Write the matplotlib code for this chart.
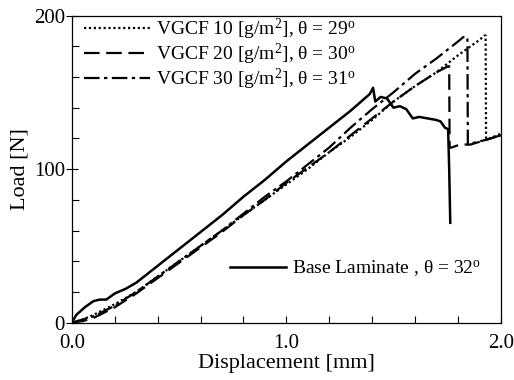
import matplotlib
matplotlib.use('Agg')
import matplotlib.pyplot as plt
from matplotlib.ticker import MultipleLocator, FormatStrFormatter

plt.rcParams['font.family'] = 'Liberation Serif'
plt.rcParams['mathtext.fontset'] = 'custom'
plt.rcParams['mathtext.rm'] = 'Liberation Serif'
plt.rcParams['mathtext.it'] = 'Liberation Serif:italic'

# Base laminate (solid)
base_x = [0, 0.02, 0.06, 0.1, 0.13, 0.16, 0.2, 0.25, 0.3, 0.4, 0.5, 0.6, 0.7, 0.8, 0.9,
          1.0, 1.1, 1.2, 1.3, 1.39, 1.405, 1.415, 1.44, 1.47, 1.5, 1.53, 1.56, 1.59,
          1.62, 1.66, 1.7, 1.72, 1.74, 1.755, 1.76, 1.765]
base_y = [0, 5, 10, 14, 15, 15, 19, 22, 26, 37, 48, 59, 70, 82, 93,
          105, 116, 127, 138, 149, 153, 144, 147, 146, 140, 141, 139, 133,
          134, 133, 132, 131, 127, 126, 100, 65]

# VGCF 10 (dotted)
v10_x = [0, 0.05, 0.1, 0.2, 0.3, 0.4, 0.5, 0.6, 0.7, 0.8, 0.9, 1.0, 1.1, 1.2, 1.3,
         1.4, 1.5, 1.6, 1.7, 1.8, 1.9, 1.925, 1.93, 1.932, 1.95, 2.0]
v10_y = [0, 2, 5, 12, 20, 30, 40, 50, 60, 70, 80, 90, 100, 111, 121,
         132, 144, 154, 163, 174, 184, 187, 187, 120, 120, 123]

# VGCF 20 (dashed)
v20_x = [0, 0.05, 0.1, 0.2, 0.3, 0.4, 0.5, 0.6, 0.7, 0.8, 0.9, 1.0, 1.1, 1.2, 1.3,
         1.4, 1.5, 1.6, 1.7, 1.755, 1.76, 1.762, 1.77, 1.81, 1.86, 1.93, 2.0]
v20_y = [0, 1, 3, 10, 19, 29, 39, 49, 59, 70, 80, 91, 101, 111, 122,
         133, 144, 154, 163, 167, 167, 114, 114, 116, 116, 119, 122]

# VGCF 30 (dash-dot)
v30_x = [0, 0.05, 0.1, 0.2, 0.3, 0.4, 0.5, 0.6, 0.7, 0.8, 0.9, 1.0, 1.1, 1.2, 1.3,
         1.4, 1.5, 1.6, 1.7, 1.8, 1.826, 1.845, 1.847, 1.87, 1.93, 2.0]
v30_y = [0, 2, 4, 11, 20, 30, 40, 50, 60, 71, 82, 92, 103, 114, 127,
         139, 150, 162, 172, 183, 186, 186, 116, 117, 119, 122]

labels = ['VGCF 10 [g/m$^2$], θ = 29$^{\\mathrm{o}}$',
          'VGCF 20 [g/m$^2$], θ = 30$^{\\mathrm{o}}$',
          'VGCF 30 [g/m$^2$], θ = 31$^{\\mathrm{o}}$']
base_label = 'Base Laminate , θ = 32$^{\\mathrm{o}}$'

fig = plt.figure(figsize=(5.14, 3.8), dpi=100)
ax = fig.add_axes([0.140, 0.151, 0.834, 0.808])

lw = 1.6
l10, = ax.plot(v10_x, v10_y, color='black', lw=lw, linestyle=(0, (1, 1.2)))
l20, = ax.plot(v20_x, v20_y, color='black', lw=lw, linestyle=(0, (7, 3)))
l30, = ax.plot(v30_x, v30_y, color='black', lw=lw, linestyle=(0, (7, 2, 1.5, 2)))
lb, = ax.plot(base_x, base_y, color='black', lw=1.8, linestyle='-')

ax.set_xlim(0, 2.0)
ax.set_ylim(0, 200)
ax.xaxis.set_major_locator(MultipleLocator(1.0))
ax.xaxis.set_minor_locator(MultipleLocator(0.2))
ax.yaxis.set_major_locator(MultipleLocator(100))
ax.yaxis.set_minor_locator(MultipleLocator(20))
ax.xaxis.set_major_formatter(FormatStrFormatter('%.1f'))
ax.tick_params(axis='x', which='both', direction='in', length=5, width=0.8, labelsize=15, pad=8)
ax.tick_params(axis='y', which='major', direction='inout', length=8, width=0.8, labelsize=15, pad=1)
ax.tick_params(axis='y', which='minor', direction='in', length=5, width=0.8)
for s in ax.spines.values():
    s.set_linewidth(0.9)

ax.set_xlabel('Displacement [mm]', fontsize=16, labelpad=1)
ax.set_ylabel('Load [N]', fontsize=16, labelpad=3)

leg1 = ax.legend([l10, l20, l30], labels, loc='upper left', bbox_to_anchor=(0.0, 1.035),
                 frameon=False, fontsize=14, handlelength=3.4, handletextpad=0.3,
                 labelspacing=0.0, borderaxespad=0.2)
ax.add_artist(leg1)
ax.legend([lb], [base_label], loc='center left', bbox_to_anchor=(0.327, 0.175),
          frameon=False, fontsize=14, handlelength=2.9, handletextpad=0.3)

fig.savefig('out.png', dpi=100)
